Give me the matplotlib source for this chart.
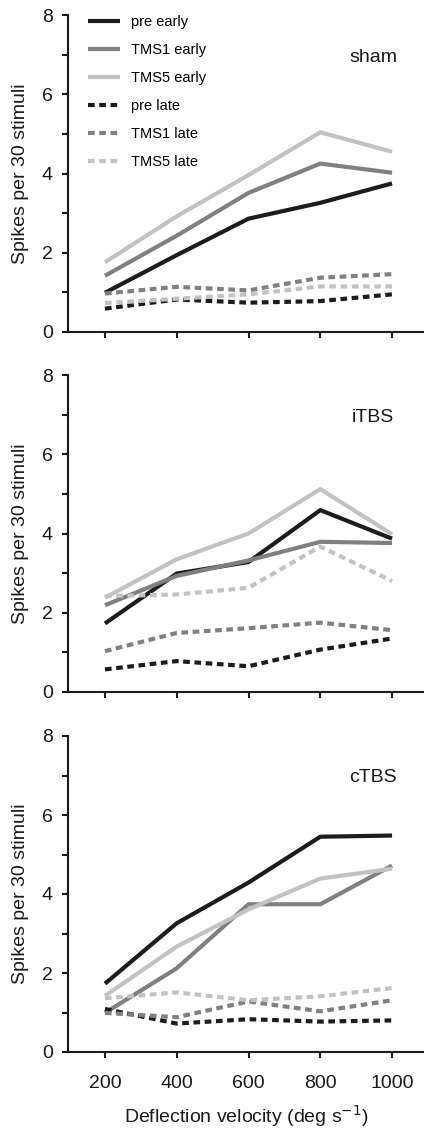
import matplotlib
matplotlib.use("Agg")
import matplotlib.pyplot as plt
from matplotlib.ticker import FixedLocator

plt.rcParams['font.family'] = ['Liberation Sans', 'DejaVu Sans']

velocity = [200, 400, 600, 800, 1000]
series_names = ["pre early", "TMS1 early", "TMS5 early", "pre late", "TMS1 late", "TMS5 late"]
panel_names = ["sham", "iTBS", "cTBS"]

sham_pre_early = [0.99, 1.94, 2.86, 3.26, 3.75]
sham_tms1_early = [1.42, 2.43, 3.51, 4.25, 4.02]
sham_tms5_early = [1.76, 2.92, 3.96, 5.04, 4.55]
sham_pre_late = [0.59, 0.82, 0.74, 0.78, 0.95]
sham_tms1_late = [0.97, 1.14, 1.05, 1.37, 1.46]
sham_tms5_late = [0.73, 0.84, 0.95, 1.15, 1.15]

itbs_pre_early = [1.73, 2.99, 3.28, 4.59, 3.87]
itbs_tms1_early = [2.19, 2.93, 3.32, 3.79, 3.76]
itbs_tms5_early = [2.38, 3.35, 4.00, 5.12, 3.98]
itbs_pre_late = [0.57, 0.78, 0.65, 1.07, 1.35]
itbs_tms1_late = [1.03, 1.49, 1.61, 1.75, 1.56]
itbs_tms5_late = [2.42, 2.46, 2.63, 3.67, 2.80]

ctbs_pre_early = [1.73, 3.26, 4.29, 5.45, 5.48]
ctbs_tms1_early = [0.99, 2.12, 3.74, 3.74, 4.72]
ctbs_tms5_early = [1.42, 2.67, 3.61, 4.39, 4.64]
ctbs_pre_late = [1.09, 0.72, 0.83, 0.77, 0.80]
ctbs_tms1_late = [0.99, 0.88, 1.28, 1.03, 1.31]
ctbs_tms5_late = [1.36, 1.51, 1.31, 1.41, 1.62]

panels = [
    [sham_pre_early, sham_tms1_early, sham_tms5_early, sham_pre_late, sham_tms1_late, sham_tms5_late],
    [itbs_pre_early, itbs_tms1_early, itbs_tms5_early, itbs_pre_late, itbs_tms1_late, itbs_tms5_late],
    [ctbs_pre_early, ctbs_tms1_early, ctbs_tms5_early, ctbs_pre_late, ctbs_tms1_late, ctbs_tms5_late],
]

colors = ['#1c1c1c', '#808080', '#c2c2c2', '#1c1c1c', '#808080', '#c2c2c2']
dashed = [False, False, False, True, True, True]

fig = plt.figure(figsize=(4.24, 11.28), dpi=100)
W, H = 424, 1128
left_px = 68
tops = [15, 375, 736]
bottoms = [332, 692, 1052]

for i, (name, data) in enumerate(zip(panel_names, panels)):
    ax = fig.add_axes([left_px / W, 1 - bottoms[i] / H, (W - left_px) / W, (bottoms[i] - tops[i]) / H])
    for j, (lab, vals) in enumerate(zip(series_names, data)):
        if dashed[j]:
            ax.plot(velocity, vals, color=colors[j], lw=3.0, dashes=(1.6, 1.1),
                    dash_capstyle='butt', label=lab)
        else:
            ax.plot(velocity, vals, color=colors[j], lw=3.0, solid_capstyle='butt', label=lab)
    ax.set_xlim(97, 1089)
    ax.set_ylim(0, 8)
    ax.yaxis.set_major_locator(FixedLocator([0, 2, 4, 6, 8]))
    ax.yaxis.set_minor_locator(FixedLocator([1, 3, 5, 7]))
    ax.xaxis.set_major_locator(FixedLocator(velocity))
    for s in ['top', 'right']:
        ax.spines[s].set_visible(False)
    for s in ['left', 'bottom']:
        ax.spines[s].set_linewidth(1.5)
        ax.spines[s].set_color('#1a1a1a')
    ax.tick_params(axis='both', which='both', direction='out', length=4.5, width=1.5,
                   color='#1a1a1a', labelsize=14, labelcolor='#1a1a1a')
    ax.tick_params(axis='y', which='both', pad=6.5)
    ax.tick_params(axis='x', which='both', pad=12)
    ax.set_ylabel('Spikes per 30 stimuli', fontsize=14, color='#1a1a1a', labelpad=9)
    ax.text(947, 6.94, name, fontsize=14, ha='center', va='center', color='#1a1a1a')
    if i < 2:
        ax.tick_params(axis='x', labelbottom=False)
    else:
        ax.set_xlabel('Deflection velocity (deg s$^{-1}$)', fontsize=14, color='#1a1a1a', labelpad=8)
    if i == 0:
        ax.legend(loc='upper left', bbox_to_anchor=(0.02, 1.04), frameon=False, fontsize=10.5,
                  handlelength=2.2, handletextpad=0.7, labelspacing=0.95)

fig.savefig('out.png', dpi=100)
